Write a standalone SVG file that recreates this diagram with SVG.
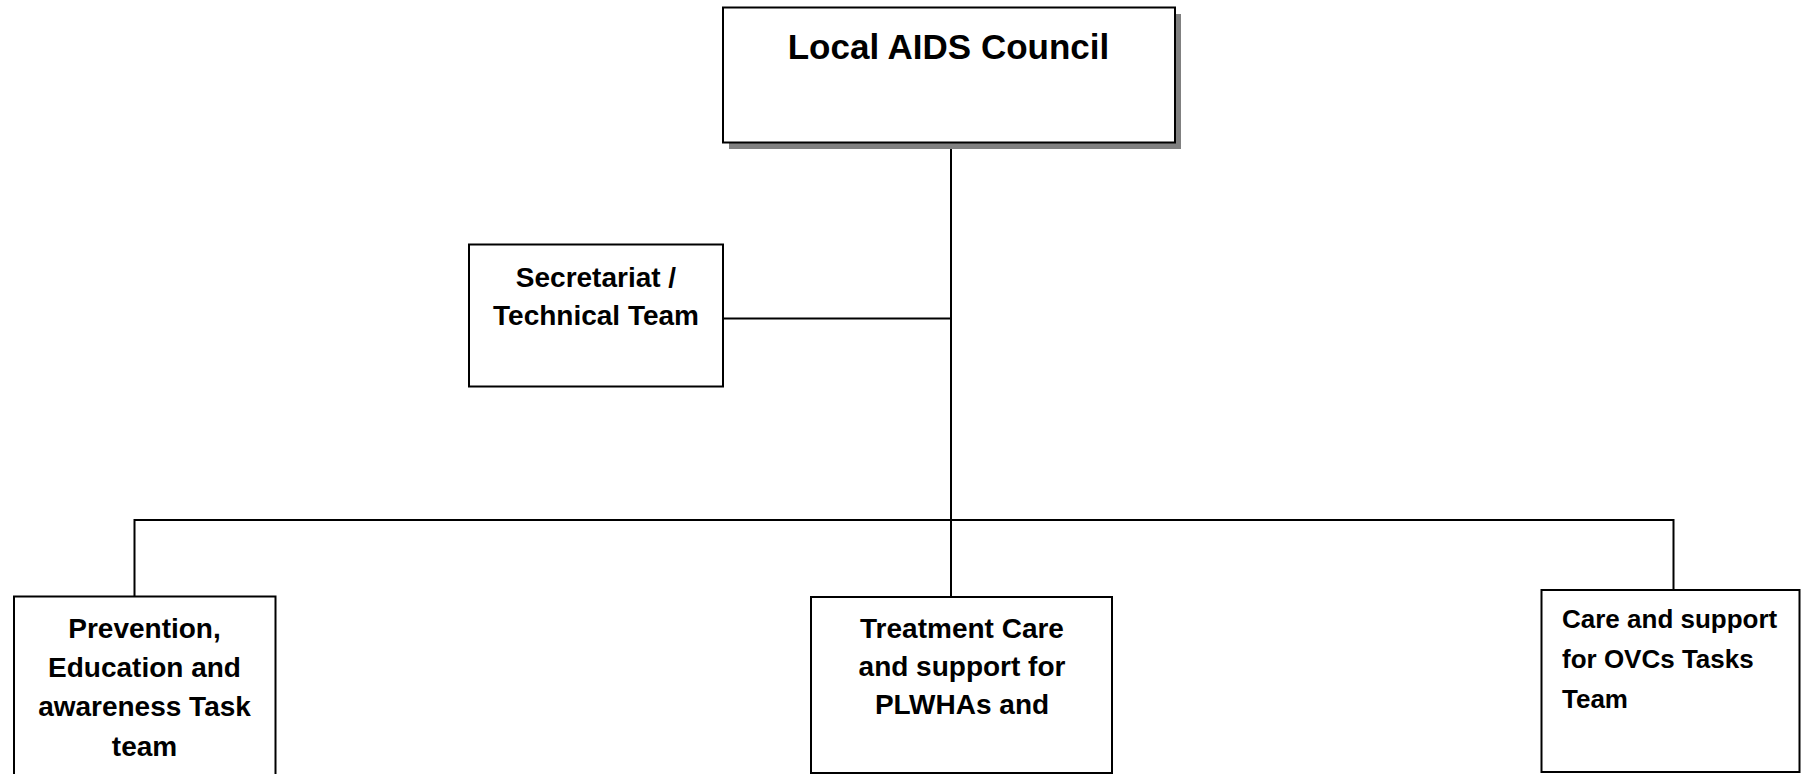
<svg xmlns="http://www.w3.org/2000/svg" width="1801" height="774" viewBox="0 0 1801 774">
<style>
.box{fill:#fff;stroke:#000;stroke-width:2}
.ln{fill:none;stroke:#000;stroke-width:2}
.t{font-family:"Liberation Sans",Arial,sans-serif;font-weight:bold;font-size:28px;fill:#000}
.c{text-anchor:middle}
</style>
<rect width="1801" height="774" fill="#fff"/>
<g id="connectors">
<line class="ln" x1="951" y1="143" x2="951" y2="597"/>
<line class="ln" x1="723" y1="318.5" x2="951" y2="318.5"/>
<polyline class="ln" points="134.5,597 134.5,520 1673.5,520 1673.5,590"/>
</g>
<g id="council">
<rect x="729" y="14" width="452" height="135" fill="#808080"/>
<rect class="box" x="723" y="7.5" width="452" height="135"/>
<text class="t c" x="948.5" y="58.5" style="font-size:35px">Local AIDS Council</text>
</g>
<g id="secretariat">
<rect class="box" x="469" y="244.5" width="254" height="142"/>
<text class="t c" x="596" y="287">Secretariat /</text>
<text class="t c" x="596" y="325">Technical Team</text>
</g>
<g id="prevention">
<rect class="box" x="14" y="596.5" width="261.5" height="185"/>
<text class="t c" x="144.5" y="638">Prevention,</text>
<text class="t c" x="144.5" y="677">Education and</text>
<text class="t c" x="144.5" y="716">awareness Task</text>
<text class="t c" x="144.5" y="756">team</text>
</g>
<g id="treatment">
<rect class="box" x="811" y="597" width="301" height="176"/>
<text class="t c" x="962" y="638">Treatment Care</text>
<text class="t c" x="962" y="676">and support for</text>
<text class="t c" x="962" y="714">PLWHAs and</text>
</g>
<g id="ovc">
<rect class="box" x="1541.5" y="590" width="258" height="182"/>
<text class="t" x="1562" y="628" style="font-size:26px">Care and support</text>
<text class="t" x="1562" y="668" style="font-size:26px">for OVCs Tasks</text>
<text class="t" x="1562" y="708" style="font-size:26px">Team</text>
</g>
</svg>
